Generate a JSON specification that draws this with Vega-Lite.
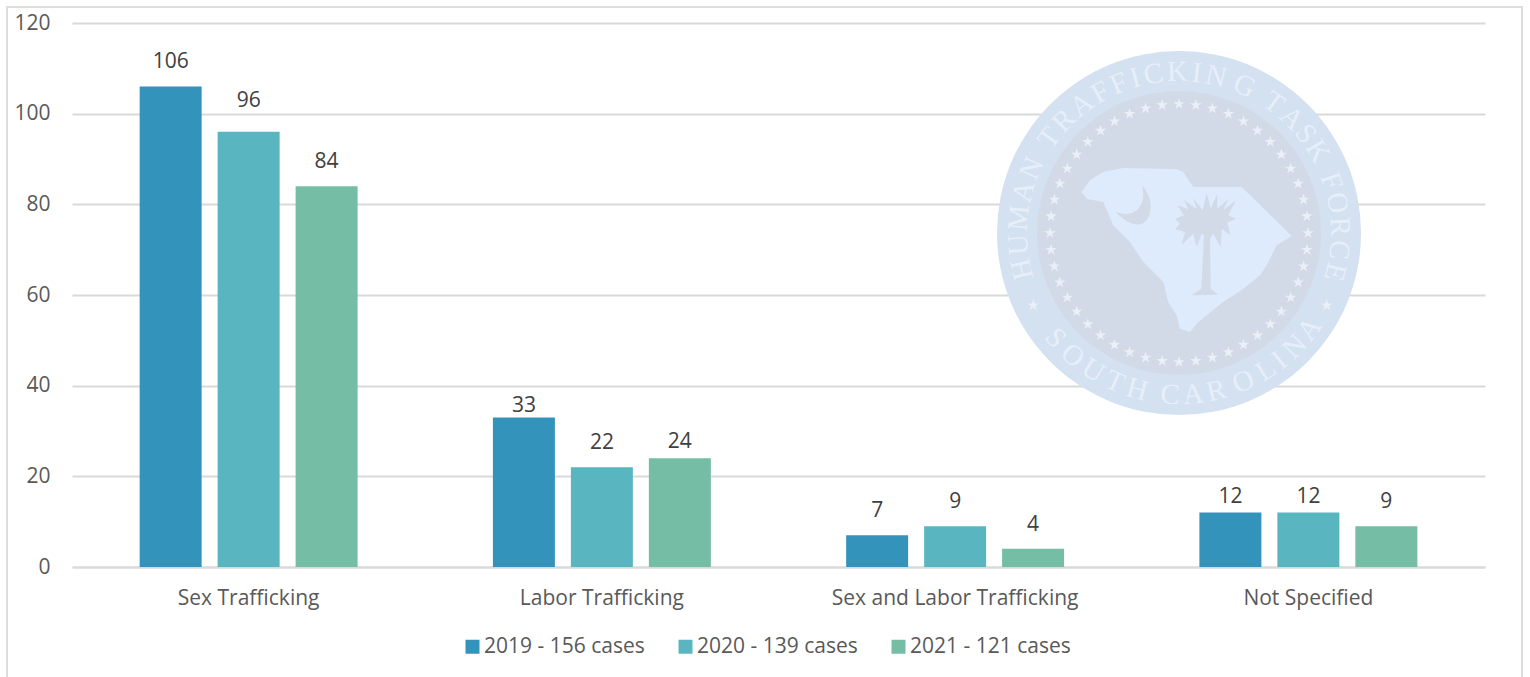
{
"$schema":"https://vega.github.io/schema/vega-lite/v6.json",
"width":1413,"height":544,"autosize":{"type":"none"},
"padding":{"left":72,"top":23,"right":45,"bottom":110},
"background":"white",
"config":{"view":{"stroke":null},"font":"Open Sans"},
"datasets":{
"bars":[
{"category":"Sex Trafficking","series":"2019 - 156 cases","value":106},
{"category":"Sex Trafficking","series":"2020 - 139 cases","value":96},
{"category":"Sex Trafficking","series":"2021 - 121 cases","value":84},
{"category":"Labor Trafficking","series":"2019 - 156 cases","value":33},
{"category":"Labor Trafficking","series":"2020 - 139 cases","value":22},
{"category":"Labor Trafficking","series":"2021 - 121 cases","value":24},
{"category":"Sex and Labor Trafficking","series":"2019 - 156 cases","value":7},
{"category":"Sex and Labor Trafficking","series":"2020 - 139 cases","value":9},
{"category":"Sex and Labor Trafficking","series":"2021 - 121 cases","value":4},
{"category":"Not Specified","series":"2019 - 156 cases","value":12},
{"category":"Not Specified","series":"2020 - 139 cases","value":12},
{"category":"Not Specified","series":"2021 - 121 cases","value":9}
],
"stars":[
{"x":0,"y":129},{"x":16.8,"y":127.9},{"x":33.4,"y":124.6},{"x":49.4,"y":119.2},{"x":64.5,"y":111.7},{"x":78.5,"y":102.3},{"x":91.2,"y":91.2},{"x":102.3,"y":78.5},{"x":111.7,"y":64.5},{"x":119.2,"y":49.4},{"x":124.6,"y":33.4},{"x":127.9,"y":16.8},
{"x":129,"y":0},{"x":127.9,"y":-16.8},{"x":124.6,"y":-33.4},{"x":119.2,"y":-49.4},{"x":111.7,"y":-64.5},{"x":102.3,"y":-78.5},{"x":91.2,"y":-91.2},{"x":78.5,"y":-102.3},{"x":64.5,"y":-111.7},{"x":49.4,"y":-119.2},{"x":33.4,"y":-124.6},{"x":16.8,"y":-127.9},
{"x":0,"y":-129},{"x":-16.8,"y":-127.9},{"x":-33.4,"y":-124.6},{"x":-49.4,"y":-119.2},{"x":-64.5,"y":-111.7},{"x":-78.5,"y":-102.3},{"x":-91.2,"y":-91.2},{"x":-102.3,"y":-78.5},{"x":-111.7,"y":-64.5},{"x":-119.2,"y":-49.4},{"x":-124.6,"y":-33.4},{"x":-127.9,"y":-16.8},
{"x":-129,"y":0},{"x":-127.9,"y":16.8},{"x":-124.6,"y":33.4},{"x":-119.2,"y":49.4},{"x":-111.7,"y":64.5},{"x":-102.3,"y":78.5},{"x":-91.2,"y":91.2},{"x":-78.5,"y":102.3},{"x":-64.5,"y":111.7},{"x":-49.4,"y":119.2},{"x":-33.4,"y":124.6},{"x":-16.8,"y":127.9},
{"x":-145.7,"y":-72.3},{"x":147.7,"y":-72.3}
],
"letters":[
{"t":"H","x":-156.9,"y":-36.2,"a":-103},{"t":"U","x":-160.6,"y":-11.8,"a":-94.2},{"t":"M","x":-160.3,"y":15.2,"a":-84.6},{"t":"A","x":-155.6,"y":41.4,"a":-75.1},{"t":"N","x":-147.4,"y":64.7,"a":-66.3},
{"t":"T","x":-129.8,"y":95.3,"a":-53.7},{"t":"R","x":-115.2,"y":112.4,"a":-45.7},{"t":"A","x":-97.3,"y":128.2,"a":-37.2},{"t":"F","x":-78.5,"y":140.5,"a":-29.2},{"t":"F","x":-60.1,"y":149.4,"a":-21.9},{"t":"I","x":-43.8,"y":154.9,"a":-15.8},{"t":"C","x":-25.5,"y":159,"a":-9.1},{"t":"K","x":-1.7,"y":161,"a":-0.6},{"t":"I","x":17.7,"y":160,"a":6.3},{"t":"N","x":37,"y":156.7,"a":13.3},{"t":"G","x":65.5,"y":147.1,"a":24},
{"t":"T","x":94.6,"y":130.2,"a":36},{"t":"A","x":112.8,"y":114.8,"a":44.5},{"t":"S","x":126.9,"y":99.1,"a":52},{"t":"K","x":138.7,"y":81.7,"a":59.5},
{"t":"F","x":152.4,"y":51.9,"a":71.2},{"t":"O","x":158.2,"y":30.2,"a":79.2},{"t":"R","x":160.9,"y":6.5,"a":87.7},{"t":"C","x":160.1,"y":-16.8,"a":96},{"t":"E","x":156.2,"y":-38.9,"a":104},
{"t":"S","x":-123.4,"y":-105,"a":49.6},{"t":"O","x":-106.1,"y":-122.5,"a":40.9},{"t":"U","x":-85.8,"y":-137.4,"a":32},{"t":"T","x":-64.1,"y":-148.8,"a":23.3},{"t":"H","x":-41.7,"y":-156.6,"a":14.9},
{"t":"C","x":-8.8,"y":-161.8,"a":3.1},{"t":"A","x":14.1,"y":-161.4,"a":-5},{"t":"R","x":37.3,"y":-157.7,"a":-13.3},{"t":"O","x":64.3,"y":-148.7,"a":-23.4},{"t":"L","x":86.8,"y":-136.8,"a":-32.4},{"t":"I","x":100.4,"y":-127.1,"a":-38.3},{"t":"N","x":115.6,"y":-113.5,"a":-45.5},{"t":"A","x":130.4,"y":-96.1,"a":-53.6}
]
},
"layer":[
{"encoding":{
 "x":{"field":"x","type":"quantitative","axis":null,"scale":{"domain":[-1107,306],"nice":false,"zero":false}},
 "y":{"field":"y","type":"quantitative","axis":null,"scale":{"domain":[-334,210],"nice":false,"zero":false}}},
 "layer":[
 {"data":{"values":[{"x":-1172,"x2":343,"y":226,"y2":-470}]},
  "mark":{"type":"rect","fill":"transparent","stroke":"#dddddd","strokeWidth":2},
  "encoding":{"x2":{"field":"x2"},"y2":{"field":"y2"}}},
 {"data":{"values":[{"x":0,"y":0}]},"mark":{"type":"point","shape":"circle","filled":true,"size":132496,"color":"#d3e1f1","opacity":1}},
 {"data":{"values":[{"x":0,"y":0}]},"mark":{"type":"point","shape":"circle","filled":true,"size":80656,"color":"#d2dae8","opacity":1}},
 {"data":{"values":[{"x":0,"y":0}]},"mark":{"type":"point","filled":true,"size":40000,"color":"#deebfc","opacity":1,"shape":"M-.973,-.41L-.89,-.527L-.757,-.61L-.557,-.65L-.023,-.637L.043,-.61L.143,-.46L.627,-.46L1.127,.03L.977,.123L.877,.323L.81,.423L.643,.557L.443,.69L.277,.823L.193,.89L.11,.99L.01,.957L-.023,.823L-.107,.69L-.157,.49L-.357,.29L-.49,.09L-.657,-.077L-.757,-.31L-.923,-.343Z"}},
 {"data":{"values":[{"x":0,"y":0}]},"mark":{"type":"point","filled":true,"size":40000,"color":"#d2dae8","opacity":1,"shape":"M-.373,-.477C-.173,-.277,-.323,.123,-.64,-.217C-.457,-.127,-.307,-.277,-.373,-.477ZM-.017,-.277L.093,-.237L.05,-.327L.177,-.243L.143,-.35L.237,-.227L.277,-.403L.317,-.243L.383,-.393L.383,-.243L.493,-.343L.443,-.227L.57,-.327L.493,-.177L.57,-.143L.483,-.103L.517,.023L.427,-.043L.417,.14L.343,.007L.31,.057L.227,.007L.177,.14L.143,.007L.027,.117L.06,-.01L-.04,-.037L.01,-.093L-.04,-.143L.05,-.177ZM.25,.023L.31,.023L.317,.557L.393,.617L.127,.623L.223,.557Z"}},
 {"data":{"name":"stars"},"mark":{"type":"point","filled":true,"size":144,"color":"#e9f0f8","opacity":1,"shape":"M0,-1L.225,-.309L.951,-.309L.363,.118L.588,.809L0,.382L-.588,.809L-.363,.118L-.951,-.309L-.225,-.309Z"}},
 {"data":{"name":"letters"},"mark":{"type":"text","font":"Liberation Serif","fontSize":29,"color":"#e6eff9","baseline":"middle","align":"center"},
  "encoding":{"text":{"field":"t"},"angle":{"field":"a","type":"quantitative","scale":null}}}
 ]},
{"data":{"name":"bars"},
 "encoding":{
 "x":{"field":"category","type":"nominal","sort":["Sex Trafficking","Labor Trafficking","Sex and Labor Trafficking","Not Specified"],"title":null,
   "scale":{"paddingInner":0.383,"paddingOuter":0.1915},
   "axis":{"labelAngle":0,"labelFontSize":21,"labelColor":"#595959","labelPadding":20,"labelLimit":400,"ticks":false,"domainColor":"#d9d9d9","domainWidth":2,"labelFont":"Open Sans"}},
 "xOffset":{"field":"series","type":"nominal","scale":{"paddingInner":0.205,"paddingOuter":0}},
 "y":{"field":"value","type":"quantitative","title":null,
   "scale":{"domain":[0,120],"nice":false},
   "axis":{"values":[0,20,40,60,80,100,120],"grid":true,"gridColor":"#d9d9d9","gridWidth":2,"domain":false,"ticks":false,"labelFontSize":21,"labelColor":"#595959","labelPadding":22,"labelFont":"Open Sans"}}},
 "layer":[
 {"mark":{"type":"bar"},"encoding":{"color":{"field":"series","type":"nominal",
   "scale":{"range":["#3393bb","#59b6c1","#75bda4"]},
   "legend":{"title":null,"orient":"none","legendX":390,"legendY":613,"direction":"horizontal","columns":3,"symbolType":"square","symbolSize":196,"symbolStrokeWidth":0,"labelFontSize":21,"labelColor":"#595959","labelFont":"Open Sans","labelOffset":1,"columnPadding":30,"labelLimit":300,"labelExpr":"datum.label=='2019 - 156 cases'?datum.label+'\u00a0':datum.label"}}}},
 {"transform":[{"filter":"datum.value!=96&&datum.value!=33&&datum.value!=24&&datum.value!=12"}],"mark":{"type":"text","fontSize":21,"color":"#404040","baseline":"middle","dy":-24},"encoding":{"text":{"field":"value"}}},
 {"transform":[{"filter":"datum.value==96"}],"mark":{"type":"text","fontSize":21,"color":"#404040","baseline":"middle","dy":-31},"encoding":{"text":{"field":"value"}}},
 {"transform":[{"filter":"datum.value==33"}],"mark":{"type":"text","fontSize":21,"color":"#404040","baseline":"middle","dy":-11},"encoding":{"text":{"field":"value"}}},
 {"transform":[{"filter":"datum.value==24||datum.value==12"}],"mark":{"type":"text","fontSize":21,"color":"#404040","baseline":"middle","dy":-16},"encoding":{"text":{"field":"value"}}}
 ]}
],
"resolve":{"scale":{"x":"independent","y":"independent"},"axis":{"x":"independent","y":"independent"}}
}
